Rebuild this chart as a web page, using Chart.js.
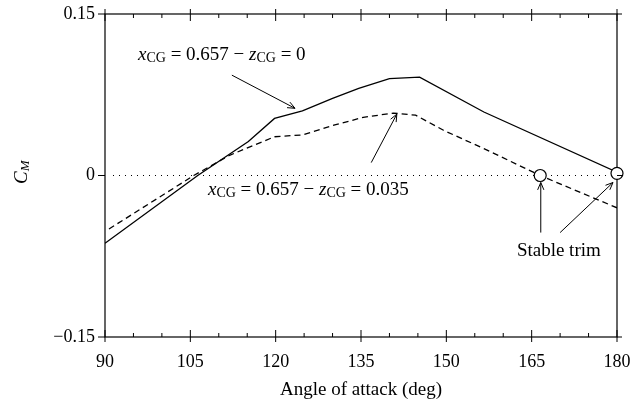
<!DOCTYPE html>
<html><head><meta charset="utf-8">
<script src="https://cdn.jsdelivr.net/npm/chart.js@4/dist/chart.umd.min.js"></script>
<style>html,body{margin:0;background:#fff}#w{width:632px;height:411px}</style>
</head><body><div id="w"><canvas id="c"></canvas></div>
<script>
const xTickLabels=[90,105,120,135,150,165,180];
const yTickLabels=[-0.15,0,0.15];
const solidX=[90,106.3,115.2,119.8,124.7,130.0,134.6,140.0,145.3,156.6,180];
const solidY=[-0.063,0,0.0315,0.053,0.060,0.0716,0.081,0.090,0.0914,0.059,0.003];
const dashX=[90.7,105.6,112,119.8,124.7,130.4,135.4,140.7,144.6,149.5,156.6,166.5,180];
const dashY=[-0.0497,0,0.019,0.036,0.0377,0.047,0.054,0.058,0.056,0.042,0.025,0,-0.030];
const trimX=[166.5,180];
const trimY=[0,0.002];
const pts=(xs,ys)=>xs.map((x,i)=>({x,y:ys[i]}));
const F='"Liberation Serif", "DejaVu Serif", serif';
const deco={id:'deco',afterDatasetsDraw(ch){
 const c=ch.ctx,a=ch.chartArea,X=ch.scales.x,Y=ch.scales.y;
 const px=v=>X.getPixelForValue(v),py=v=>Y.getPixelForValue(v);
 c.save();c.strokeStyle='#000';c.fillStyle='#000';c.lineWidth=1;
 for(let v=90;v<=180;v+=5){const x=px(v),L=(v%15===0)?7:4;
  c.beginPath();c.moveTo(x,a.bottom);c.lineTo(x,a.bottom-L);c.moveTo(x,a.top);c.lineTo(x,a.top+L);
  if(v%15===0){c.moveTo(x,a.bottom);c.lineTo(x,a.bottom+5);c.moveTo(x,a.top);c.lineTo(x,a.top-5);}
  c.stroke();}
 yTickLabels.forEach(v=>{const y=py(v);c.beginPath();c.moveTo(a.left-7,y);c.lineTo(a.left,y);c.moveTo(a.right,y);c.lineTo(a.right+5,y);c.stroke();});
 c.font='18px '+F;c.textAlign='center';c.textBaseline='middle';
 xTickLabels.forEach(v=>c.fillText(String(v),px(v),a.bottom+25));
 c.textAlign='right';
 yTickLabels.forEach(v=>c.fillText(v===0?'0':(v<0?'\u2212'+Math.abs(v).toFixed(2):v.toFixed(2)),a.left-10,py(v)));
 c.textAlign='center';c.font='19px '+F;
 c.fillText('Angle of attack (deg)',(a.left+a.right)/2,390);
 c.save();c.translate(22,174);c.rotate(-Math.PI/2);c.textAlign='left';
 c.font='italic 19px '+F;c.fillText('C',-10,0);const w=c.measureText('C').width;c.font='italic 13px '+F;c.fillText('M',-10+w,4);c.restore();
 function lab(x,y,val){let cx=px(x);const cy=py(y);c.textAlign='left';c.textBaseline='alphabetic';
  const parts=[['x','italic 19px'],['CG','14px'],[' = 0.657 \u2212 ','19px'],['z','italic 19px'],['CG','14px'],[' = '+val,'19px']];
  parts.forEach(([t,f])=>{c.font=f+' '+F;c.fillText(t,cx,cy+(f==='14px'?2:0));cx+=c.measureText(t).width;});}
 lab(95.8,0.107,'0');lab(108.1,-0.0177,'0.035');
 c.font='19px '+F;c.textAlign='left';c.textBaseline='alphabetic';c.fillText('Stable trim',px(162.4),py(-0.0745));
 function arrow(x1,y1,x2,y2){const a1=px(x1),b1=py(y1),a2=px(x2),b2=py(y2);const ang=Math.atan2(b2-b1,a2-a1);
  c.beginPath();c.moveTo(a1,b1);c.lineTo(a2,b2);
  c.moveTo(a2-8*Math.cos(ang-0.4),b2-8*Math.sin(ang-0.4));c.lineTo(a2,b2);c.lineTo(a2-8*Math.cos(ang+0.4),b2-8*Math.sin(ang+0.4));c.stroke();}
 arrow(112.3,0.0932,123.4,0.0624);arrow(136.8,0.012,141.3,0.057);
 arrow(166.6,-0.053,166.6,-0.0065);arrow(170.0,-0.053,179.3,-0.0065);
 c.restore();},
 beforeDatasetsDraw(ch){const c=ch.ctx,a=ch.chartArea,py=v=>ch.scales.y.getPixelForValue(v);c.save();c.lineWidth=1.2;c.strokeStyle='#000';c.strokeRect(a.left,a.top,a.right-a.left,a.bottom-a.top);
  c.lineWidth=1;c.setLineDash([1,5]);c.beginPath();c.moveTo(a.left+8,py(0));c.lineTo(a.right,py(0));c.stroke();c.restore();}};
new Chart(document.getElementById('c'),{type:'scatter',
 data:{datasets:[
  {data:pts(solidX,solidY),showLine:true,borderColor:'#000',borderWidth:1.3,pointRadius:0,fill:false},
  {data:pts(dashX,dashY),showLine:true,borderColor:'#000',borderWidth:1.3,borderDash:[6,4],pointRadius:0,fill:false},
  {data:pts(trimX,trimY),showLine:false,clip:false,order:-1,pointRadius:6,pointBackgroundColor:'#fff',pointBorderColor:'#000',pointBorderWidth:1.2}]},
 options:{responsive:true,maintainAspectRatio:false,animation:false,
  layout:{padding:{left:105,right:15,top:14,bottom:74}},
  plugins:{legend:{display:false},tooltip:{enabled:false}},
  scales:{x:{type:'linear',min:90,max:180,display:false},y:{min:-0.15,max:0.15,display:false}}},
 plugins:[deco]});
</script></body></html>
